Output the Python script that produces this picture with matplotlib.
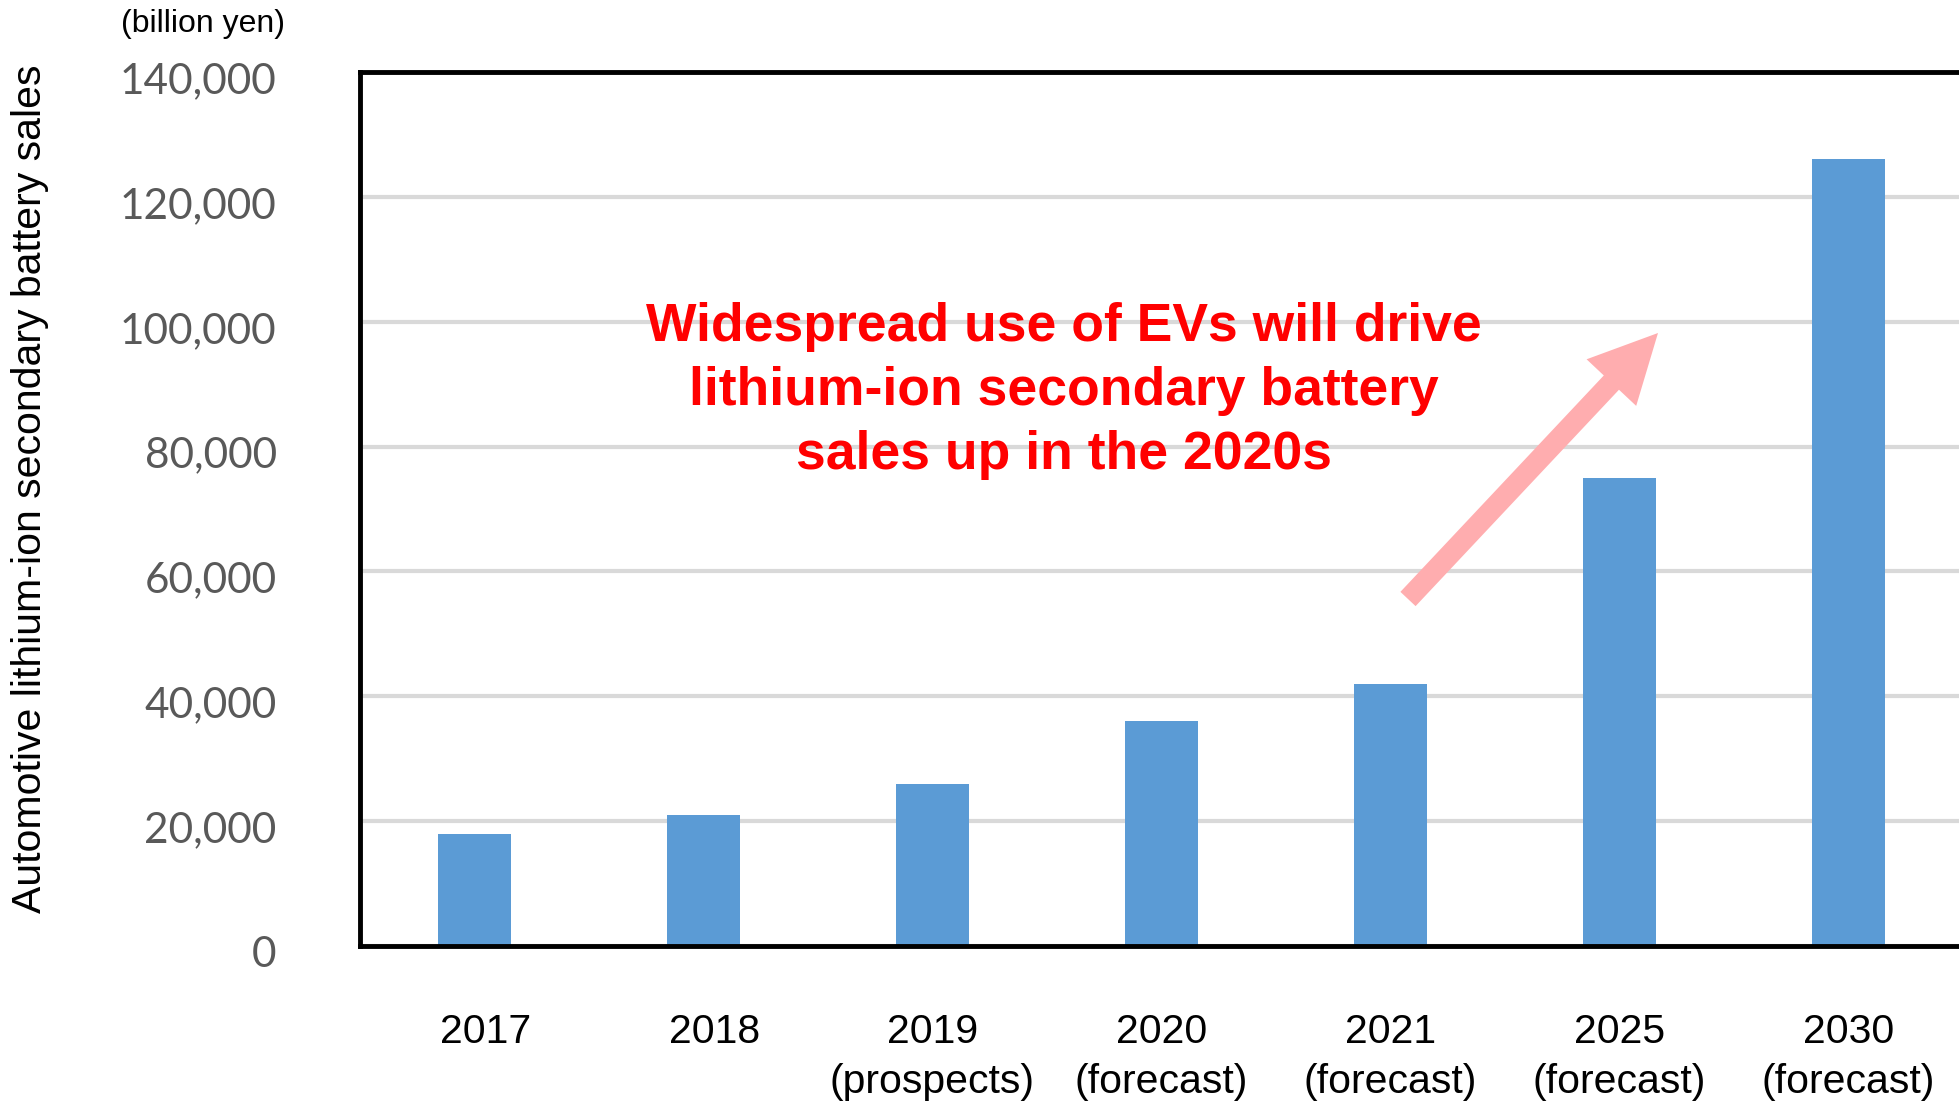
import matplotlib.pyplot as plt
import matplotlib.transforms as mtransforms
from matplotlib.patches import FancyArrowPatch

years = ["2017", "2018", "2019", "2020", "2021", "2025", "2030"]
notes = ["", "", "(prospects)", "(forecast)", "(forecast)", "(forecast)", "(forecast)"]
sales = [18000, 21000, 26000, 36000, 42000, 75000, 126000]
yticks = [0, 20000, 40000, 60000, 80000, 100000, 120000, 140000]

W, H = 1959, 1102
fig = plt.figure(figsize=(W / 100, H / 100), dpi=100)
# axes runs a little past the right edge of the figure, like the original
ax = fig.add_axes([360 / W, 1 - 946 / H, (1963 - 360) / W, (946 - 72) / H])

x = list(range(len(years)))
ax.bar(x, sales, width=0.315, color="#5B9BD5", zorder=2)

ax.set_xlim(-0.5, 6.5)
ax.set_ylim(0, 140000)
ax.set_yticks(yticks)
ax.set_yticklabels([f"{v:,}" for v in yticks], fontfamily="Lato",
                   fontsize=30.5, color="#595959")
ax.yaxis.grid(True, color="#D9D9D9", linewidth=3.0, zorder=0)
ax.set_axisbelow(True)

labels = [y if n == "" else y + "\n" + n for y, n in zip(years, notes)]
ax.set_xticks(x)
ax.set_xticklabels(labels, fontfamily="Liberation Sans", fontsize=29.5,
                   linespacing=1.42, va="top")
ax.tick_params(axis="x", length=0, pad=48)
ax.tick_params(axis="y", length=0, pad=60)

# small nudges so labels sit where the original ones do
for lab, n in zip(ax.get_xticklabels(), notes):
    dx = 8 if n == "" else 0
    lab.set_transform(lab.get_transform() + mtransforms.ScaledTranslation(dx / 72, 0, fig.dpi_scale_trans))
for lab in ax.get_yticklabels():
    lab.set_transform(lab.get_transform() + mtransforms.ScaledTranslation(0, -4 / 72, fig.dpi_scale_trans))

for side in ["left", "top", "bottom"]:
    ax.spines[side].set_linewidth(3.5)
    ax.spines[side].set_color("black")
    ax.spines[side].set_zorder(3)
ax.spines["right"].set_visible(False)

fig.text(121 / W, 1 - 24 / H, "(billion yen)", fontfamily="Liberation Sans",
         fontsize=23, ha="left", va="center")
fig.text(30 / W, 1 - 489 / H, "Automotive lithium-ion secondary battery sales",
         fontfamily="Liberation Sans", fontsize=29.5, rotation=90,
         ha="center", va="center")

fig.text(1064 / W, 1 - 391 / H,
         "Widespread use of EVs will drive\nlithium-ion secondary battery\nsales up in the 2020s",
         fontfamily="Liberation Sans", fontweight="bold", fontsize=38.5,
         color="#FF0000", ha="center", va="center", linespacing=1.36)

arrow = FancyArrowPatch((1408 / W, 1 - 599 / H), (1658 / W, 1 - 333 / H),
                        transform=fig.transFigure,
                        arrowstyle="simple,head_width=49,head_length=49,tail_width=15",
                        mutation_scale=1, shrinkA=0, shrinkB=0,
                        color="#FFADAF", linewidth=0)
fig.patches.append(arrow)

fig.savefig("out.png", dpi=100)
